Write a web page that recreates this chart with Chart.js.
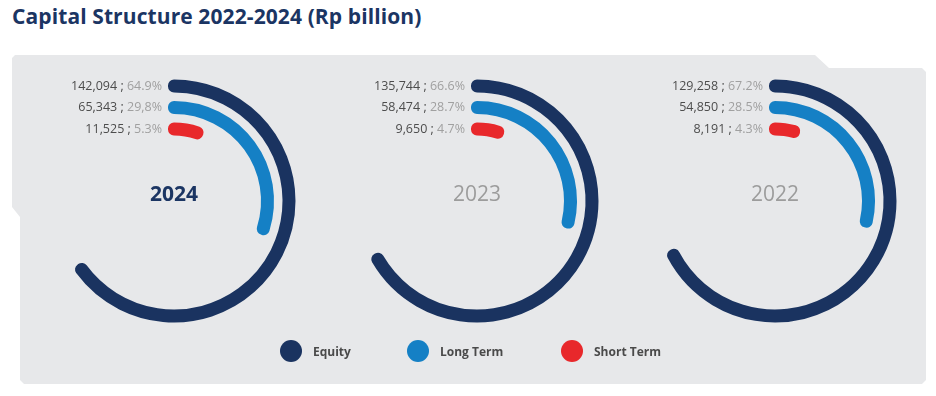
<!DOCTYPE html>
<html><head><meta charset="utf-8">
<script src="https://cdn.jsdelivr.net/npm/chart.js@4"></script>
<style>
html,body{margin:0;padding:0;background:#fff;width:936px;height:396px;overflow:hidden;font-family:"Open Sans",sans-serif;}
#title{position:absolute;left:12px;top:2px;font-size:21px;font-weight:700;color:#1b3563;white-space:nowrap;letter-spacing:0.1px;}
#panel{position:absolute;left:0;top:0;width:936px;height:396px;background:#e7e8ea;
clip-path:polygon(15px 55px,815px 55px,829px 68px,922px 68px,926px 72px,926px 380px,922px 384px,24px 384px,20px 380px,20px 217px,12px 207px,12px 58px);}
canvas.cv{position:absolute;}
.leg{position:absolute;top:340px;height:22px;display:flex;align-items:center;font-size:12px;font-weight:700;color:#4a4a4a;}
.dot{width:22px;height:22px;border-radius:50%;margin-right:11px;}
</style></head>
<body>
<div id="panel"></div>
<div id="title">Capital Structure 2022-2024 (Rp billion)</div>
<canvas class="cv" id="c0" width="280" height="280" style="left:34px;top:61px"></canvas>
<canvas class="cv" id="c1" width="280" height="280" style="left:337px;top:61px"></canvas>
<canvas class="cv" id="c2" width="280" height="280" style="left:635px;top:61px"></canvas>
<div id="legend"></div>
<script>
const years = ['2024', '2023', '2022'];
const seriesNames = ['Equity', 'Long Term', 'Short Term'];
const seriesColors = ['#1a3360', '#1580c5', '#e8282b'];
const equity = [142094, 135744, 129258];
const longTerm = [65343, 58474, 54850];
const shortTerm = [11525, 9650, 8191];
const pctEquity = ['64.9%', '66.6%', '67.2%'];
const pctLongTerm = ['29,8%', '28.7%', '28.5%'];
const pctShortTerm = ['5.3%', '4.7%', '4.3%'];

const legendX = [280, 407, 561];
const legendEl = document.getElementById('legend');
seriesNames.forEach((n, k) => {
  const d = document.createElement('div');
  d.className = 'leg';
  d.style.left = legendX[k] + 'px';
  d.innerHTML = '<span class="dot" style="background:' + seriesColors[k] + '"></span>' + n;
  legendEl.appendChild(d);
});

const labelPlugin = {
  id: 'ringLabels',
  afterDatasetsDraw(chart) {
    const ctx = chart.ctx;
    ctx.save();
    let cx = 0, cy = 0;
    chart.data.datasets.forEach((ds, i) => {
      if (!ds.ringLabel) return;
      const arc = chart.getDatasetMeta(i).data[0];
      cx = arc.x; cy = arc.y;
      const ly = arc.y - (arc.outerRadius + arc.innerRadius) / 2;
      const rx = arc.x - 12;
      ctx.font = '12.5px "Open Sans"';
      ctx.textBaseline = 'middle';
      ctx.textAlign = 'right';
      ctx.fillStyle = '#a0a0a0';
      ctx.fillText(ds.pctLabel, rx, ly);
      const w = ctx.measureText(ds.pctLabel).width;
      ctx.fillStyle = '#4d4d4d';
      ctx.fillText(ds.ringLabel + ' ; ', rx - w, ly);
    });
    const yr = chart.options.plugins.ringLabels.year;
    const bold = chart.options.plugins.ringLabels.bold;
    ctx.font = (bold ? '700 ' : '400 ') + '21px "Open Sans"';
    ctx.fillStyle = bold ? '#1b3563' : '#9c9c9c';
    ctx.textAlign = 'center';
    ctx.textBaseline = 'middle';
    ctx.fillText(yr, cx, cy - 6);
    ctx.restore();
  }
};

function spacer(w) {
  return { data: [1], backgroundColor: 'transparent', borderWidth: 0, weight: w };
}
function ring(v, total, color, pct) {
  return {
    data: [v, total - v],
    backgroundColor: [color, 'transparent'],
    borderColor: [color, 'transparent'],
    borderWidth: [12, 0],
    borderJoinStyle: 'round',
    weight: 1,
    ringLabel: v.toLocaleString('en-US'),
    pctLabel: pct
  };
}

years.forEach((yr, i) => {
  const total = equity[i] + longTerm[i] + shortTerm[i];
  new Chart(document.getElementById('c' + i), {
    type: 'doughnut',
    data: {
      labels: ['value', 'rest'],
      datasets: [
        spacer(12.5),
        ring(equity[i], total, seriesColors[0], pctEquity[i]),
        spacer(20.5),
        ring(longTerm[i], total, seriesColors[1], pctLongTerm[i]),
        spacer(20.5),
        ring(shortTerm[i], total, seriesColors[2], pctShortTerm[i])
      ]
    },
    options: {
      responsive: false,
      animation: false,
      events: [],
      radius: 128,
      cutout: (71.5 / 128 * 100) + '%',
      rotation: 0,
      circumference: 360,
      layout: { padding: 0 },
      plugins: {
        legend: { display: false },
        tooltip: { enabled: false },
        ringLabels: { year: yr, bold: i === 0 }
      }
    },
    plugins: [labelPlugin]
  });
});
</script>
</body></html>
